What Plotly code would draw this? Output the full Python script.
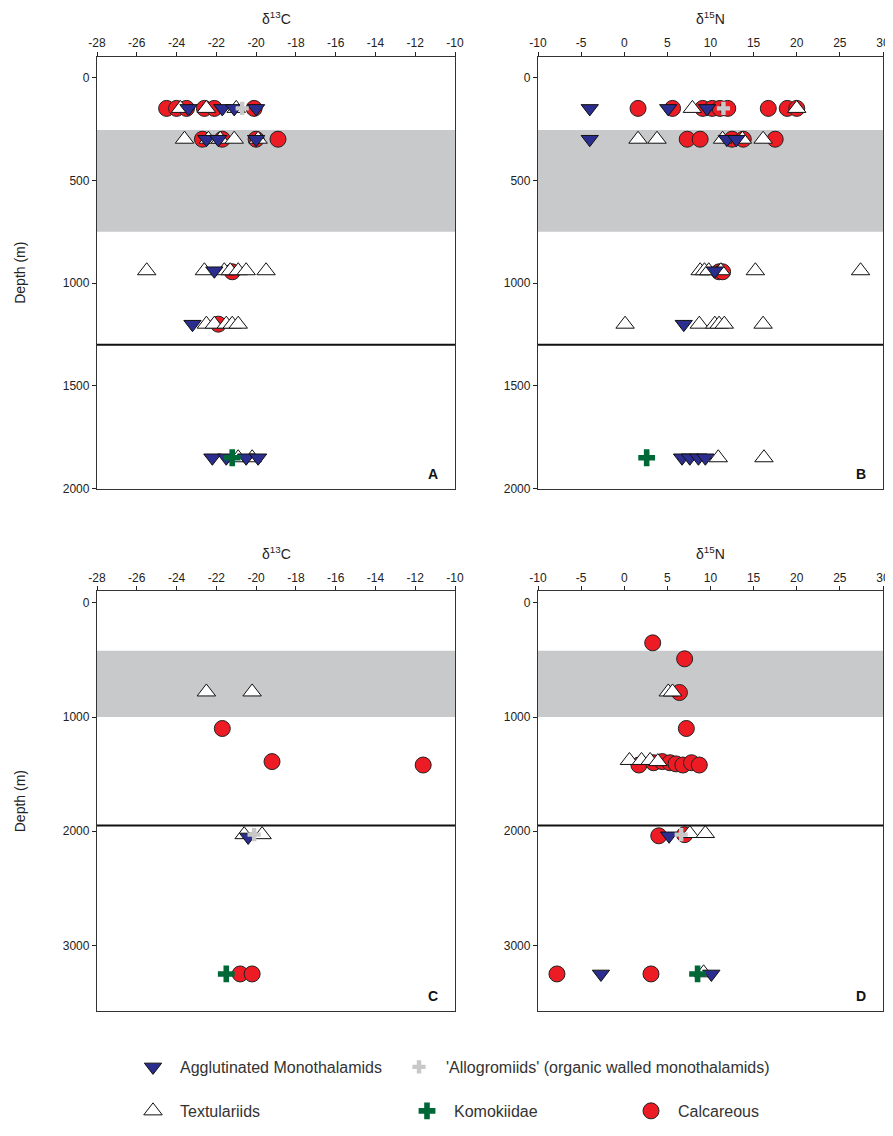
import plotly.graph_objects as go

# figure size; the page body keeps its default 8px margin
OX, OY = 8, 8
W, H = 885, 1120
SY = 1.008  # small vertical correction measured on the rendered page


def px(x):
    return (x - OX) / W


def py(y):
    return 1 - (y * SY - OY) / H


# ---------------- data ----------------
# Panel A : d13C, site 1
A_agg_x = [-23.4, -21.7, -21.1, -20.0, -22.5, -21.9, -20.0, -22.1, -23.2, -22.2, -21.5, -20.5, -19.9]
A_agg_y = [150, 150, 150, 150, 300, 300, 300, 940, 1200, 1850, 1850, 1850, 1850]
A_allo_x = [-20.7]
A_allo_y = [150]
A_tex_x = [-23.8, -22.5, -21.0, -23.6, -22.4, -21.8, -21.1, -19.9,
           -25.5, -22.6, -21.6, -21.3, -20.9, -20.5, -19.5,
           -22.5, -22.1, -21.5, -21.2, -20.9, -20.9, -20.2]
A_tex_y = [150, 150, 150, 300, 300, 300, 300, 300,
           940, 940, 940, 940, 940, 940, 940,
           1200, 1200, 1200, 1200, 1200, 1850, 1850]
A_cal_x = [-24.5, -24.0, -23.5, -22.6, -22.1, -20.1, -22.7, -21.7, -20.0, -18.9, -21.2, -21.9]
A_cal_y = [150, 150, 150, 150, 150, 150, 300, 300, 300, 300, 945, 1200]
A_kom_x = [-21.2]
A_kom_y = [1850]

# Panel B : d15N, site 1
B_agg_x = [-4.0, 5.1, 9.6, -4.0, 11.9, 13.0, 10.5, 6.9, 6.7, 7.6, 8.6, 9.4]
B_agg_y = [150, 150, 150, 300, 300, 300, 940, 1200, 1850, 1850, 1850, 1850]
B_allo_x = [11.5]
B_allo_y = [150]
B_tex_x = [7.9, 20.0, 1.6, 3.8, 11.4, 13.7, 16.1,
           8.8, 9.3, 9.8, 11.2, 15.2, 27.4,
           0.1, 8.7, 10.5, 11.0, 11.6, 16.1, 10.9, 16.2]
B_tex_y = [150, 150, 300, 300, 300, 300, 300,
           940, 940, 940, 940, 940, 940,
           1200, 1200, 1200, 1200, 1200, 1200, 1850, 1850]
B_cal_x = [1.6, 5.6, 9.1, 10.2, 11.1, 12.0, 16.7, 18.9, 20.0, 7.3, 8.8, 12.5, 13.8, 17.5, 11.0, 11.4]
B_cal_y = [150, 150, 150, 150, 150, 150, 150, 150, 150, 300, 300, 300, 300, 300, 945, 945]
B_kom_x = [2.6]
B_kom_y = [1850]

# Panel C : d13C, site 2
C_agg_x = [-20.4]
C_agg_y = [2050]
C_allo_x = [-20.1]
C_allo_y = [2030]
C_tex_x = [-22.5, -20.2, -20.6, -19.7]
C_tex_y = [780, 780, 2030, 2030]
C_cal_x = [-21.7, -19.2, -11.6, -20.8, -20.2]
C_cal_y = [1100, 1390, 1420, 3250, 3250]
C_kom_x = [-21.5]
C_kom_y = [3250]

# Panel D : d15N, site 2
D_agg_x = [5.2, -2.7, 10.1]
D_agg_y = [2040, 3250, 3250]
D_allo_x = [6.6]
D_allo_y = [2030]
D_tex_x = [5.1, 5.6, 0.6, 2.0, 3.0, 3.9, 7.6, 9.4, 9.2]
D_tex_y = [780, 780, 1380, 1380, 1380, 1390, 2020, 2020, 3240]
D_cal_x = [3.3, 7.0, 6.4, 7.2, 1.7, 3.4, 4.4, 5.3, 6.0, 6.8, 7.8, 8.7, 4.0, 7.0, -7.8, 3.1]
D_cal_y = [350, 490, 785, 1100, 1420, 1400, 1390, 1400, 1410, 1420, 1400, 1420, 2040, 2030, 3250, 3250]
D_kom_x = [8.5]
D_kom_y = [3250]

# zones (depth, m)
band_AB = [255, 750]
line_AB = 1300
band_CD = [420, 1000]
line_CD = 1950

panel_titles = ["δ<sup>13</sup>C", "δ<sup>15</sup>N", "δ<sup>13</sup>C", "δ<sup>15</sup>N"]
panel_letters = ["A", "B", "C", "D"]
x13_ticks = [-28, -26, -24, -22, -20, -18, -16, -14, -12, -10]
x15_ticks = [-10, -5, 0, 5, 10, 15, 20, 25, 30]
yAB_ticks = [0, 500, 1000, 1500, 2000]
yCD_ticks = [0, 1000, 2000, 3000]

group_names = ["Agglutinated Monothalamids", "'Allogromiids' (organic walled monothalamids)",
               "Textulariids", "Komokiidae", "Calcareous"]

# ---------------- styles ----------------
FONT = "Arial, Liberation Sans, sans-serif"
BLUE = "#2B2E8E"
RED = "#ED1C24"
GREEN = "#006837"
GREY_PLUS = "#C8C8C8"
BAND = "#C8C9CB"

styles = {
    "agg": dict(symbol="triangle-down", size=15, color=BLUE, line=dict(color="#111", width=1)),
    "allo": dict(symbol="cross", size=11, color=GREY_PLUS, line=dict(width=0)),
    "tex": dict(symbol="triangle-up", size=16, color="white", line=dict(color="#111", width=1)),
    "kom": dict(symbol="cross", size=14, color=GREEN, line=dict(width=0)),
    "cal": dict(symbol="circle", size=16, color=RED, line=dict(color="#222", width=1)),
}
# legend id, text start x and row centre y (page px)
legend_of = {"agg": ("legend", 180, 1068), "allo": ("legend2", 446, 1068),
             "tex": ("legend3", 180, 1112), "kom": ("legend4", 454, 1112),
             "cal": ("legend5", 678, 1112)}
name_of = dict(zip(["agg", "allo", "tex", "kom", "cal"], group_names))

panels = [
    dict(data={"cal": (A_cal_x, A_cal_y), "tex": (A_tex_x, A_tex_y), "agg": (A_agg_x, A_agg_y),
               "allo": (A_allo_x, A_allo_y), "kom": (A_kom_x, A_kom_y)},
         xd=(97, 455), yd=(57, 489), xr=[-28, -10], xt=x13_ticks, yr=[2000, -100], yt=yAB_ticks,
         band=band_AB, line=line_AB),
    dict(data={"cal": (B_cal_x, B_cal_y), "tex": (B_tex_x, B_tex_y), "agg": (B_agg_x, B_agg_y),
               "allo": (B_allo_x, B_allo_y), "kom": (B_kom_x, B_kom_y)},
         xd=(538, 883), yd=(57, 489), xr=[-10, 30], xt=x15_ticks, yr=[2000, -100], yt=yAB_ticks,
         band=band_AB, line=line_AB),
    dict(data={"cal": (C_cal_x, C_cal_y), "tex": (C_tex_x, C_tex_y), "agg": (C_agg_x, C_agg_y),
               "allo": (C_allo_x, C_allo_y), "kom": (C_kom_x, C_kom_y)},
         xd=(97, 455), yd=(592, 1012), xr=[-28, -10], xt=x13_ticks, yr=[3575, -100], yt=yCD_ticks,
         band=band_CD, line=line_CD),
    dict(data={"cal": (D_cal_x, D_cal_y), "tex": (D_tex_x, D_tex_y), "agg": (D_agg_x, D_agg_y),
               "allo": (D_allo_x, D_allo_y), "kom": (D_kom_x, D_kom_y)},
         xd=(538, 883), yd=(592, 1012), xr=[-10, 30], xt=x15_ticks, yr=[3575, -100], yt=yCD_ticks,
         band=band_CD, line=line_CD),
]

fig = go.Figure()
layout = {}
shapes = []
annotations = []

for i, p in enumerate(panels):
    n = "" if i == 0 else str(i + 1)
    xa, ya = "x" + n, "y" + n
    for key in ["cal", "tex", "agg", "allo", "kom"]:
        xs, ys = p["data"][key]
        lg = legend_of[key][0]
        fig.add_trace(go.Scatter(
            x=xs, y=ys, mode="markers", xaxis=xa, yaxis=ya, name=name_of[key],
            marker=styles[key], showlegend=(i == 0), legend=lg,
            hoverinfo="x+y"))
    layout["xaxis" + n] = dict(
        domain=[px(p["xd"][0]), px(p["xd"][1])], anchor=ya, side="top", range=p["xr"],
        tickvals=p["xt"], ticktext=[str(v) for v in p["xt"]],
        ticks="outside", ticklen=4, tickcolor="#222",
        showline=True, linecolor="#333", linewidth=1.3, mirror=True,
        showgrid=False, zeroline=False, automargin=False,
        tickfont=dict(family=FONT, size=12, color="#222"))
    layout["yaxis" + n] = dict(
        domain=[py(p["yd"][1]), py(p["yd"][0])], anchor=xa, range=p["yr"],
        tickvals=p["yt"], ticktext=[str(v) for v in p["yt"]],
        ticks="outside", ticklen=4, tickcolor="#222",
        showline=True, linecolor="#333", linewidth=1.3, mirror=True,
        showgrid=False, zeroline=False, automargin=False,
        tickfont=dict(family=FONT, size=12, color="#222"))
    shapes.append(dict(type="rect", xref=xa + " domain", yref=ya, x0=0, x1=1,
                       y0=p["band"][0], y1=p["band"][1], fillcolor=BAND, line=dict(width=0),
                       layer="below"))
    shapes.append(dict(type="line", xref=xa + " domain", yref=ya, x0=0, x1=1,
                       y0=p["line"], y1=p["line"], line=dict(color="#111", width=2)))
    annotations.append(dict(text=panel_titles[i], xref="paper", yref="paper",
                            x=px((p["xd"][0] + p["xd"][1]) / 2), y=py(p["yd"][0] - 39),
                            xanchor="center", yanchor="middle", showarrow=False,
                            font=dict(family=FONT, size=14, color="#222")))
    annotations.append(dict(text="<b>" + panel_letters[i] + "</b>", xref="paper", yref="paper",
                            x=px(p["xd"][1] - 15), y=py(p["yd"][1] - 5),
                            xanchor="right", yanchor="bottom", showarrow=False,
                            font=dict(family=FONT, size=14, color="#111")))
    if i in (0, 2):
        annotations.append(dict(text="Depth (m)", xref="paper", yref="paper",
                                x=px(20), y=py((p["yd"][0] + p["yd"][1]) / 2),
                                textangle=-90, xanchor="center", yanchor="middle", showarrow=False,
                                font=dict(family=FONT, size=14, color="#222")))

legends = {}
for key, (lg, tx, ty) in legend_of.items():
    legends[lg] = dict(orientation="h", xanchor="left", yanchor="middle",
                       x=px(tx - 54), y=py(ty), itemwidth=44,
                       font=dict(family=FONT, size=16, color="#333"),
                       bgcolor="rgba(0,0,0,0)", itemclick=False, itemdoubleclick=False)

fig.update_layout(
    width=W, height=H, margin=dict(l=0, r=0, t=0, b=0),
    paper_bgcolor="white", plot_bgcolor="white",
    shapes=shapes, annotations=annotations,
    **legends, **layout)

fig.write_html("out.html", config={"displayModeBar": False})
